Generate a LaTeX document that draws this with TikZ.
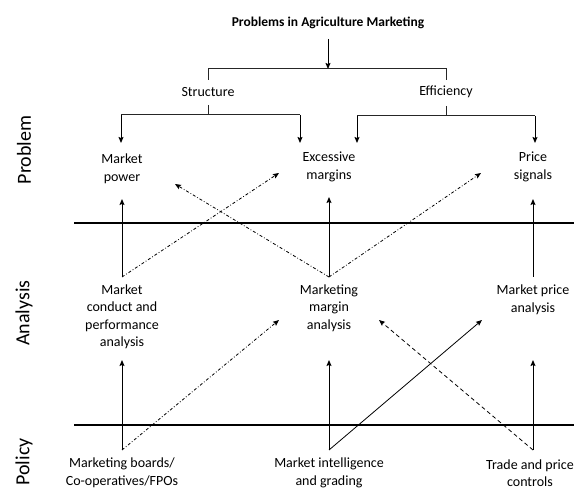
\documentclass[tikz,border=0pt]{standalone}
\usepackage{fontspec}
\setmainfont{Carlito}
\usetikzlibrary{arrows.meta}
\begin{document}
\begin{tikzpicture}[x=1pt,y=-1pt,
  lbl/.style={font=\fontsize{14}{17.5}\selectfont, align=center, inner sep=0pt},
  side/.style={font=\fontsize{20}{22}\selectfont, rotate=90, inner sep=0pt},
  arr/.style={-{Stealth[length=6pt,width=5pt,inset=1pt]}, line width=1pt},
  brk/.style={line width=1pt, draw=black!85},
  sep/.style={line width=1.8pt},
  septhin/.style={line width=1.1pt},
  dd/.style={arr, line width=0.8pt, dash pattern=on 3pt off 2pt on 0.8pt off 2pt},
  dsh/.style={arr, line width=0.8pt, dash pattern=on 4pt off 3pt}]
\useasboundingbox (0,0) rectangle (574,492);
% titles
\node[lbl, font=\fontsize{13.5}{16}\selectfont\bfseries] (title) at (328,23) {Problems in Agriculture Marketing};
\node[lbl] (str) at (208,92) {Structure};
\node[lbl] (eff) at (446,92) {Efficiency};
% side labels
\node[side] (sprob) at (24,150) {Problem};
\node[side] (sana) at (24,313) {Analysis};
\node[side] (spol) at (24,462) {Policy};
% problem nodes
\node[lbl] (mp) at (122,169) {Market\\power};
\node[lbl] (em) at (329,167) {Excessive\\margins};
\node[lbl] (ps) at (533,167) {Price\\signals};
% analysis nodes
\node[lbl] (mc) at (122,317) {Market\\conduct and\\performance\\analysis};
\node[lbl] (mm) at (329,308) {Marketing\\margin\\analysis};
\node[lbl] (mpa) at (533,300) {Market price\\analysis};
% policy nodes
\node[lbl] (mb) at (122,473) {Marketing boards/\\Co-operatives/FPOs};
\node[lbl] (mi) at (329,473) {Market intelligence\\and grading};
\node[lbl] (tp) at (530,473) {Trade and price\\controls};
% coordinates
\coordinate (t0) at (328,39);
\coordinate (t1) at (328,69);
\coordinate (bl) at (208,69);
\coordinate (br) at (446,69);
\coordinate (bl2) at (208,80);
\coordinate (br2) at (446,80);
\coordinate (s0) at (208,105);
\coordinate (s1) at (208,115);
\coordinate (sl) at (121,115);
\coordinate (sr) at (300,115);
\coordinate (e0) at (446,106);
\coordinate (e1) at (446,116);
\coordinate (el) at (357,116);
\coordinate (er) at (535,116);
\coordinate (mpin) at (121,143);
\coordinate (emin1) at (300,143);
\coordinate (emin2) at (357,143);
\coordinate (psin) at (535,143);
\coordinate (mpup) at (122,199);
\coordinate (emup) at (329,197);
\coordinate (psup) at (533,199);
\coordinate (mcb) at (122,277);
\coordinate (mmb) at (329,277);
\coordinate (mpab) at (533,277);
\coordinate (emdl) at (279,173);
\coordinate (mpdr) at (175,184);
\coordinate (psdl) at (481,173);
\coordinate (mcup) at (122,360);
\coordinate (mmup) at (329,360);
\coordinate (mpaup) at (533,360);
\coordinate (mbb) at (122,450);
\coordinate (mib) at (329,450);
\coordinate (tpb) at (533,450);
\coordinate (mml) at (279,320);
\coordinate (mpal) at (482,320);
\coordinate (mmr) at (379,320);
\coordinate (l1a) at (74,223);
\coordinate (l1b) at (574,223);
\coordinate (l2a) at (74,425);
\coordinate (l2b) at (574,425);
% separators
\draw[sep] (l1a) -- (l1b);
\draw[septhin] (l2a) -- (l2b);
% top tree
\draw[arr] (t0) -- (t1);
\draw[brk] (bl2) -- (bl) -- (br) -- (br2);
\draw[brk] (s0) -- (s1);
\draw[brk] (sl) -- (sr);
\draw[brk] (e0) -- (e1);
\draw[brk] (el) -- (er);
\draw[arr] (sl) -- (mpin);
\draw[arr] (sr) -- (emin1);
\draw[arr] (el) -- (emin2);
\draw[arr] (er) -- (psin);
% analysis -> problem
\draw[arr] (mcb) -- (mpup);
\draw[arr] (mmb) -- (emup);
\draw[arr] (mpab) -- (psup);
\draw[dd] (mcb) -- (emdl);
\draw[dd] (mmb) -- (mpdr);
\draw[dd] (mmb) -- (psdl);
% policy -> analysis
\draw[arr] (mbb) -- (mcup);
\draw[arr] (mib) -- (mmup);
\draw[arr] (tpb) -- (mpaup);
\draw[dd] (mbb) -- (mml);
\draw[arr, line width=0.8pt] (mib) -- (mpal);
\draw[dsh] (tpb) -- (mmr);
\end{tikzpicture}
\end{document}
